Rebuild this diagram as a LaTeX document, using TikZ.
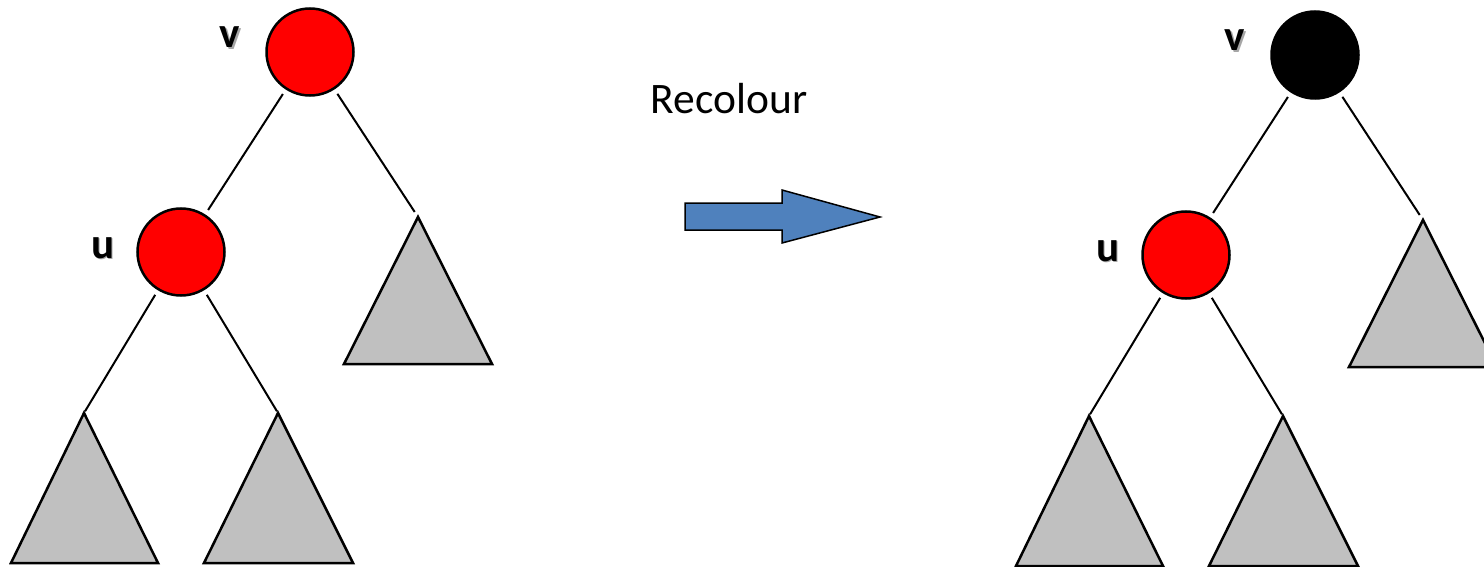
\documentclass[tikz,border=0pt]{standalone}
\usepackage{fontspec}
\setmainfont{Carlito}
\definecolor{nodered}{HTML}{FF0000}
\definecolor{subtree}{HTML}{C0C0C0}
\definecolor{arrowblue}{HTML}{4F81BD}
\begin{document}
\begin{tikzpicture}[x=1pt, y=-1pt,
  rbnode/.style={circle, draw=black, line width=2.5pt, minimum size=87pt,
                 inner sep=0pt, outer sep=6.5pt},
  rednode/.style={rbnode, fill=nodered},
  blacknode/.style={rbnode, fill=black},
  subtreetri/.style={draw=black, line width=2.5pt, fill=subtree, line join=miter},
  edge/.style={draw=black, line width=2pt},
  lbl/.style={anchor=base, font=\fontsize{43}{50}\selectfont\bfseries, inner sep=0pt},
  lblshadow/.style={lbl, text=black, opacity=0.35},
  caption/.style={anchor=base, font=\fontsize{43.5}{50}\selectfont, inner sep=0pt}]

\clip (0,0) rectangle (1484,567);
\fill[white] (0,0) rectangle (1484,567);

% ---------- tree before recolouring ----------
\node[rednode] (v1) at (310,52) {};
\node[rednode] (u1) at (181,252) {};
\coordinate (a1) at (418,217);
\coordinate (b1) at (84,413);
\coordinate (c1) at (278,413);
\draw[subtreetri] (a1) -- ++(-74,147) -- ++(148,0) -- cycle;
\draw[subtreetri] (b1) -- ++(-73,150) -- ++(147,0) -- cycle;
\draw[subtreetri] (c1) -- ++(-74,150) -- ++(149,0) -- cycle;
\draw[edge] (v1) -- (u1);
\draw[edge, shorten >=6pt] (v1) -- (a1);
\draw[edge, shorten >=2pt] (u1) -- (b1);
\draw[edge, shorten >=2pt] (u1) -- (c1);
\node[lblshadow] at (231.5,49.5) {v};
\node[lbl] (lv1) at (230,48) {v};
\node[lblshadow] at (104.5,259.5) {u};
\node[lbl] (lu1) at (103,258) {u};

% ---------- recolour step ----------
\node[caption] (cap) at (729,114) {Recolour};
\draw[draw=black, line width=1.5pt, fill=arrowblue, line join=miter]
  (685,203) -- (782,203) -- (782,190) -- (880,217) -- (782,243)
  -- (782,230) -- (685,230) -- cycle;

% ---------- tree after recolouring ----------
\begin{scope}[shift={(1005,3)}]
\node[blacknode] (v2) at (310,52) {};
\node[rednode] (u2) at (181,252) {};
\coordinate (a2) at (418,217);
\coordinate (b2) at (84,413);
\coordinate (c2) at (278,413);
\draw[subtreetri] (a2) -- ++(-74,147) -- ++(148,0) -- cycle;
\draw[subtreetri] (b2) -- ++(-73,150) -- ++(147,0) -- cycle;
\draw[subtreetri] (c2) -- ++(-74,150) -- ++(149,0) -- cycle;
\draw[edge] (v2) -- (u2);
\draw[edge, shorten >=6pt] (v2) -- (a2);
\draw[edge, shorten >=2pt] (u2) -- (b2);
\draw[edge, shorten >=2pt] (u2) -- (c2);
\node[lblshadow] at (231.5,49.5) {v};
\node[lbl] (lv2) at (230,48) {v};
\node[lblshadow] at (104.5,259.5) {u};
\node[lbl] (lu2) at (103,258) {u};
\end{scope}
\end{tikzpicture}
\end{document}
